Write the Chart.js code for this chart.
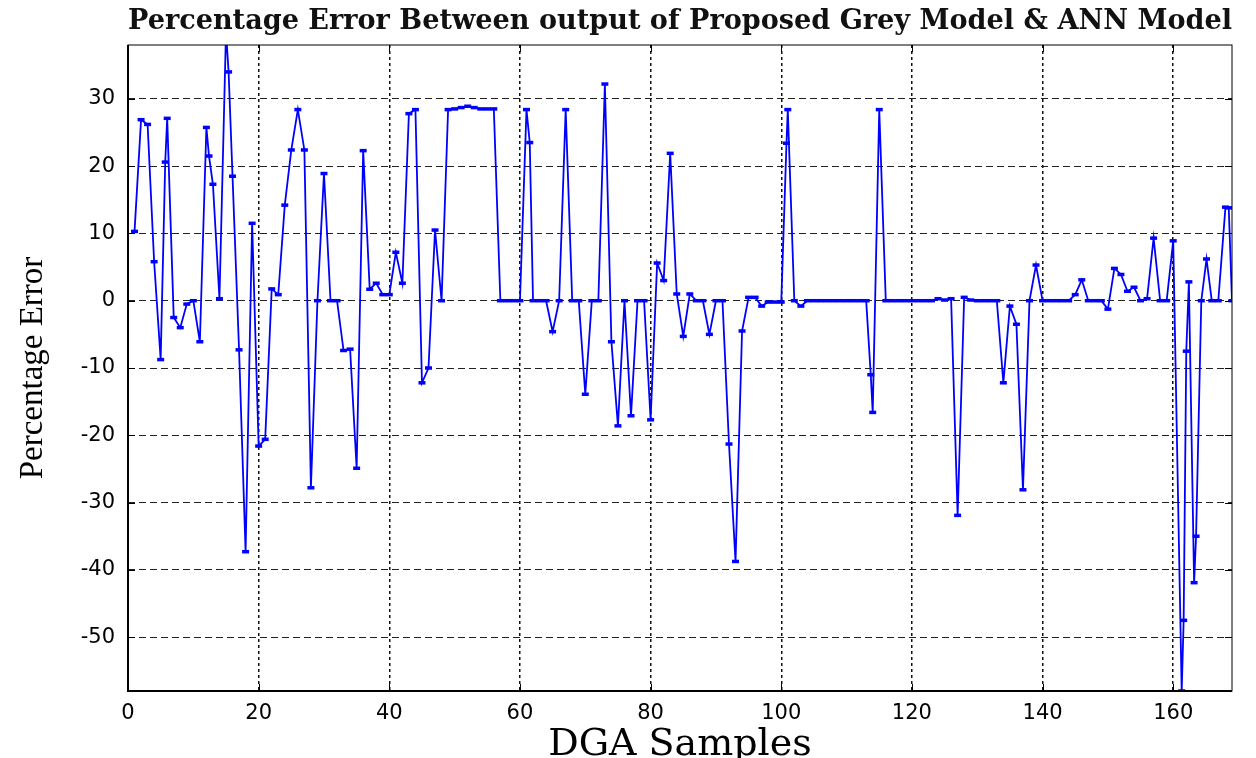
<!DOCTYPE html>
<html>
<head>
<meta charset="utf-8">
<script src="https://cdn.jsdelivr.net/npm/chart.js@4.4.1/dist/chart.umd.min.js"></script>
<style>
  html, body { margin: 0; padding: 0; background: #fff; }
  #wrap { width: 1256px; height: 758px; }
</style>
</head>
<body>
<div id="wrap"><canvas id="errChart" width="1256" height="758"></canvas></div>
<script>
// values
const sampleNo = [
  1, 2, 3, 4, 5, 5.7, 6, 7, 8, 9, 10, 11, 12, 12.4, 13, 14, 15, 15.4, 16, 17, 18, 19, 20,
  21, 22, 23, 24, 25, 26, 27, 28, 29, 30, 31, 32, 33, 34, 35, 36, 37, 38, 39, 40,
  41, 42, 43, 44, 45, 46, 47, 48, 49, 50, 51, 52, 53, 54, 55, 56, 57, 58, 59, 60,
  61, 61.5, 62, 63, 64, 65, 66, 67, 68, 69, 70, 71, 72, 73, 74, 75, 76, 77, 78, 79, 80,
  81, 82, 83, 84, 85, 86, 87, 88, 89, 90, 91, 92, 93, 94, 95, 96, 97, 98, 99, 100,
  100.8, 101, 102, 103, 104, 105, 106, 107, 108, 109, 110, 111, 112, 113, 113.7, 114, 115,
  116, 117, 118, 119, 120, 121, 122, 123, 124, 125, 126, 127, 128, 129, 130,
  131, 132, 133, 134, 135, 136, 137, 138, 139, 140, 141, 142, 143, 144, 145,
  146, 147, 148, 149, 150, 151, 152, 153, 154, 155, 156, 157, 158, 159, 160,
  161.3, 161.6, 162, 162.4, 163.2, 163.5, 164.3, 165.1, 165.9, 166.9, 168, 168.5, 169
];
const errorPct = [
  10.3, 26.9, 26.2, 5.8, -8.75, 20.6, 27.1, -2.5, -4.0, -0.5, 0, -6.1, 25.75, 21.5, 17.3, 0.3, 40, 34, 18.5, -7.3, -37.3, 11.5, -21.6,
  -20.6, 1.75, 0.9, 14.2, 22.4, 28.4, 22.4, -27.8, 0, 18.9, 0, 0, -7.4, -7.2, -24.9, 22.3, 1.7, 2.6, 0.9, 0.9,
  7.2, 2.6, 27.8, 28.4, -12.2, -10, 10.5, 0, 28.4, 28.5, 28.7, 28.9, 28.7, 28.5, 28.5, 28.5, 0, 0, 0, 0,
  28.4, 23.5, 0, 0, 0, -4.6, 0, 28.4, 0, 0, -13.9, 0, 0, 32.2, -6.1, -18.6, 0, -17.1, 0, 0, -17.7,
  5.6, 3, 21.9, 1.0, -5.3, 1.0, 0, 0, -5, 0, 0, -21.3, -38.75, -4.5, 0.5, 0.5, -0.8, -0.2, -0.2, -0.2,
  23.4, 28.4, 0, -0.8, 0, 0, 0, 0, 0, 0, 0, 0, 0, 0, -11, -16.6, 28.4,
  0, 0, 0, 0, 0, 0, 0, 0, 0.3, 0.1, 0.3, -31.9, 0.5, 0.1, 0,
  0, 0, 0, -12.2, -0.8, -3.5, -28.1, 0, 5.3, 0, 0, 0, 0, 0, 0.9,
  3.1, 0, 0, 0, -1.25, 4.8, 3.9, 1.4, 2.0, 0, 0.3, 9.3, 0, 0, 8.9,
  -58, -47.5, -7.5, 2.8, -41.9, -35, 0, 6.2, 0, 0, 13.9, 13.8, 0
];
const xTickValues = [0, 20, 40, 60, 80, 100, 120, 140, 160];
const yTickValues = [-50, -40, -30, -20, -10, 0, 10, 20, 30];

const chartTitle = 'Percentage Error Between output of Proposed Grey Model & ANN Model';
const xAxisTitle = 'DGA Samples';
const yAxisTitle = 'Percentage Error';

const points = sampleNo.map((x, i) => ({ x, y: errorPct[i] }));

// matlab style box with inward tick marks
const plotFrame = {
    id: 'plotFrame',
    afterDatasetsDraw(chart) {
        const { ctx, chartArea: area, scales } = chart;
        const tickLen = 7;

        ctx.save();
        ctx.strokeStyle = '#000';
        ctx.lineWidth = 1;
        ctx.strokeRect(area.left, area.top, area.right - area.left, area.bottom - area.top);

        ctx.beginPath();
        xTickValues.forEach((v) => {
            const px = Math.round(scales.x.getPixelForValue(v)) + 0.5;
            ctx.moveTo(px, area.bottom);
            ctx.lineTo(px, area.bottom - tickLen);
            ctx.moveTo(px, area.top);
            ctx.lineTo(px, area.top + tickLen);
        });
        yTickValues.forEach((v) => {
            const py = Math.round(scales.y.getPixelForValue(v)) + 0.5;
            ctx.moveTo(area.left, py);
            ctx.lineTo(area.left + tickLen, py);
            ctx.moveTo(area.right, py);
            ctx.lineTo(area.right - tickLen, py);
        });
        ctx.stroke();

        ctx.lineWidth = 2;
        ctx.beginPath();
        ctx.moveTo(area.left, area.top);
        ctx.lineTo(area.left, area.bottom);
        ctx.lineTo(area.right, area.bottom);
        ctx.stroke();
        ctx.restore();
    }
};

new Chart(document.getElementById('errChart'), {
    type: 'line',
    data: {
        datasets: [
            {
                label: yAxisTitle,
                data: points,
                borderColor: '#0000ff',
                backgroundColor: '#0000ff',
                borderWidth: 1.8,
                tension: 0,
                pointStyle: 'line',
                pointRadius: 3.5,
                pointBorderWidth: 3.5,
                pointBorderColor: '#0000ff'
            }
        ]
    },
    options: {
        responsive: false,
        animation: false,
        devicePixelRatio: 1,
        layout: {
            padding: { left: 0, right: 24, top: 0, bottom: 0 }
        },
        plugins: {
            legend: { display: false },
            tooltip: { enabled: false },
            title: {
                display: true,
                text: chartTitle,
                fullSize: false,
                color: '#111',
                font: { family: 'DejaVu Serif', size: 28, weight: 'bold', lineHeight: 1.2 },
                padding: { top: 5, bottom: 6.4 }
            }
        },
        scales: {
            x: {
                type: 'linear',
                min: 0,
                max: 169,
                afterBuildTicks: (axis) => {
                    axis.ticks = xTickValues.map((value) => ({ value }));
                },
                afterFit: (axis) => {
                    axis.height = 67;
                },
                grid: {
                    color: '#111',
                    lineWidth: 1.5,
                    drawTicks: false
                },
                border: { display: false, dash: [3, 3] },
                ticks: {
                    color: '#000',
                    padding: 10,
                    maxRotation: 0,
                    font: { family: 'DejaVu Sans', size: 21 }
                },
                title: {
                    display: true,
                    text: xAxisTitle,
                    color: '#000',
                    font: { family: 'DejaVu Serif', size: 38, lineHeight: 0.8 },
                    padding: { top: 0, bottom: -2 }
                }
            },
            y: {
                min: -58,
                max: 38,
                afterBuildTicks: (axis) => {
                    axis.ticks = yTickValues.map((value) => ({ value }));
                },
                afterFit: (axis) => {
                    axis.width = 128;
                },
                grid: {
                    color: '#222',
                    lineWidth: 1,
                    drawTicks: false
                },
                border: { display: false, dash: [7, 4] },
                ticks: {
                    color: '#000',
                    padding: 13,
                    font: { family: 'DejaVu Sans', size: 21 }
                },
                title: {
                    display: true,
                    text: yAxisTitle,
                    color: '#000',
                    font: { family: 'Liberation Serif', size: 33, lineHeight: 1.2 },
                    padding: { top: 14, bottom: 0 }
                }
            }
        }
    },
    plugins: [plotFrame]
});
</script>
</body>
</html>
